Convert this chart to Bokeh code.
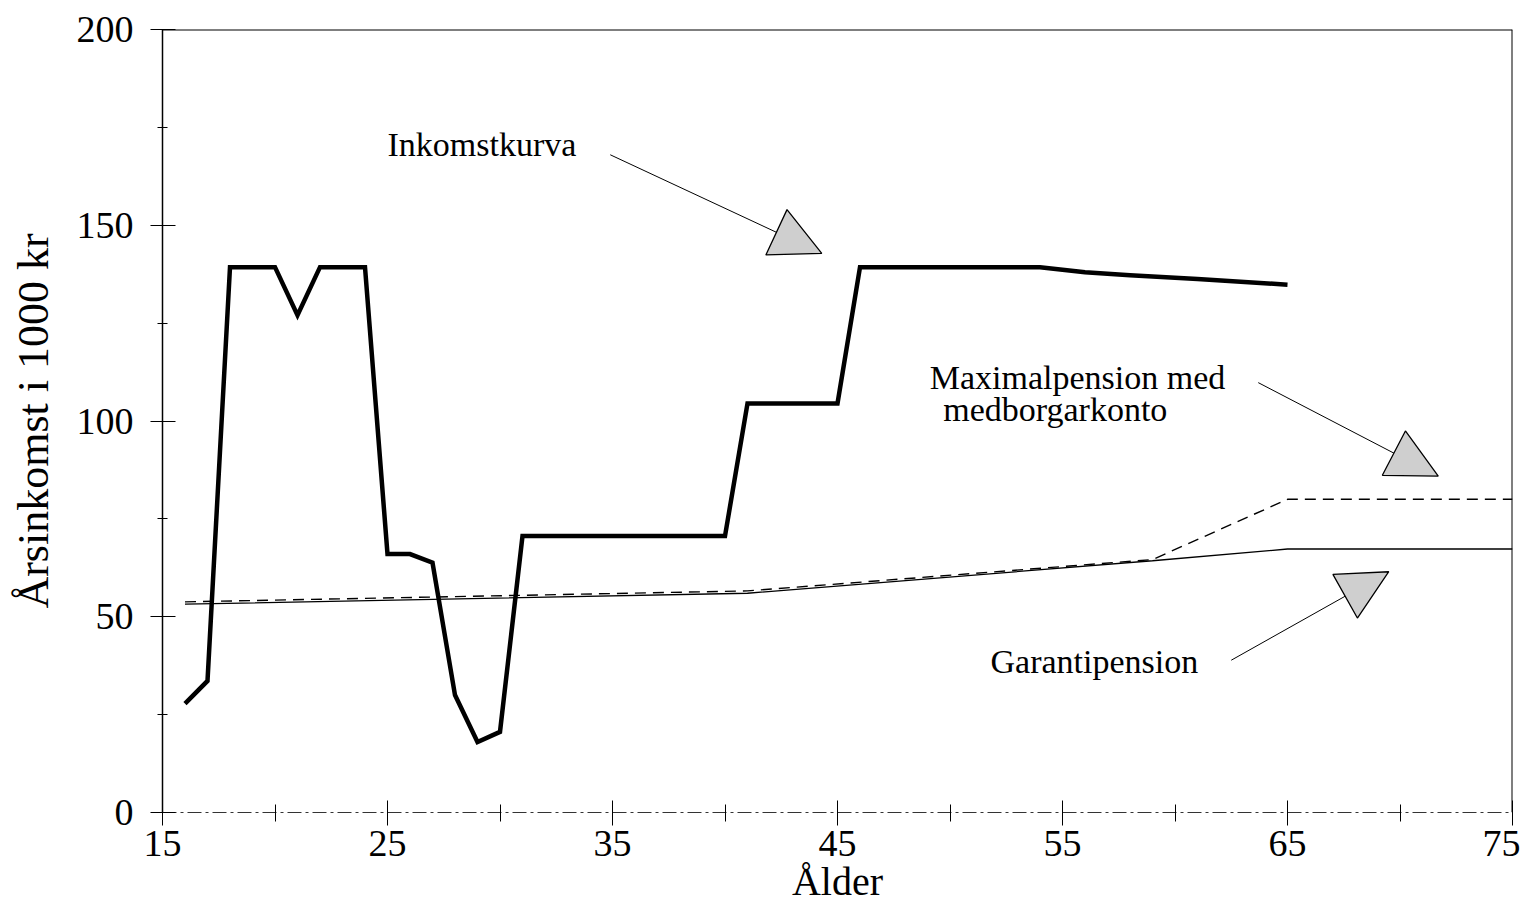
from bokeh.plotting import figure
from bokeh.models import Range1d, FixedTicker, Arrow, NormalHead, Span
from bokeh.core.properties import value
from bokeh.embed import file_html
from bokeh.resources import INLINE

# ---- data ----
ages_inkomst = [16, 17, 18, 20, 21, 22, 24, 25, 26, 27, 28, 29, 30, 31,
                40, 41, 45, 46, 50, 54, 56, 58, 61, 65]
inkomst = [27.8, 33.6, 139.3, 139.3, 127.0, 139.3, 139.3, 66.0, 66.0, 63.8,
           30.0, 18.0, 20.6, 70.6, 70.6, 104.5, 104.5, 139.3, 139.3, 139.3,
           138.0, 137.2, 136.3, 134.8]

ages_garanti = [16, 41, 59, 65, 75]
garanti = [53.2, 56.0, 64.3, 67.3, 67.3]

ages_maxpension = [16, 41, 59, 65, 75]
maxpension = [53.8, 56.6, 64.6, 80.0, 80.0]

x_major = [15, 25, 35, 45, 55, 65, 75]
x_minor = [20, 30, 40, 50, 60, 70]
y_major = [0, 50, 100, 150, 200]
y_minor = [25, 75, 125, 175]

x_title = "Ålder"
y_title = "Årsinkomst i 1000 kr"

annot_texts = ["Inkomstkurva", "Maximalpension med", "medborgarkonto", "Garantipension"]
annot_x = [25.0, 49.1, 49.7, 51.8]
annot_y = [170.5, 111.1, 102.9, 38.6]

# arrows: (x_start, y_start, x_end, y_end)
arrows = [
    (34.9, 168.0, 44.3, 142.8),
    (63.7, 109.8, 71.7, 85.9),
    (62.5, 38.9, 69.5, 61.5),
]

FONT = "Liberation Serif"

p = figure(width=1520, height=907,
           x_range=Range1d(15, 75), y_range=Range1d(0, 200),
           output_backend="svg", toolbar_location=None,
           min_border_left=162, min_border_right=8,
           min_border_top=29, min_border_bottom=95)

p.grid.visible = False
p.outline_line_color = None
p.background_fill_color = "white"
p.border_fill_color = "white"

# frame top and right
p.add_layout(Span(location=200, dimension="width", line_color="black", line_width=2))
p.add_layout(Span(location=75, dimension="height", line_color="black", line_width=2))

# series
p.line(ages_garanti, garanti, line_color="black", line_width=1.3)
p.line(ages_maxpension, maxpension, line_color="black", line_width=1.4, line_dash="11 7")
p.line(ages_inkomst, inkomst, line_color="black", line_width=4.5, line_join="miter")

# axes
xa = p.xaxis[0]
xa.ticker = FixedTicker(ticks=x_major, minor_ticks=x_minor)
xa.axis_label = x_title
xa.major_tick_in = 12
xa.major_tick_out = 13
xa.minor_tick_in = 8
xa.minor_tick_out = 9
xa.axis_line_color = "#333333"
xa.axis_line_dash = "14 4 3 4"
xa.major_label_standoff = 5
xa.axis_label_standoff = 0
xa.major_label_text_font = FONT
xa.major_label_text_font_size = "38px"
xa.axis_label_text_font = FONT
xa.axis_label_text_font_size = "40px"
xa.axis_label_text_font_style = "normal"

ya = p.yaxis[0]
ya.ticker = FixedTicker(ticks=y_major, minor_ticks=y_minor)
ya.axis_label = y_title
ya.major_tick_in = 13
ya.major_tick_out = 12
ya.minor_tick_in = 5
ya.minor_tick_out = 5
ya.axis_line_color = "black"
ya.axis_line_width = 1.5
ya.major_label_standoff = 17
ya.axis_label_standoff = 16
ya.major_label_text_font = FONT
ya.major_label_text_font_size = "38px"
ya.axis_label_text_font = FONT
ya.axis_label_text_font_size = "44px"
ya.axis_label_text_font_style = "normal"

for ax in (xa, ya):
    ax.major_tick_line_color = "black"
    ax.minor_tick_line_color = "black"
    ax.major_label_text_color = "black"
    ax.axis_label_text_color = "black"

# annotation texts
p.text(x=annot_x, y=annot_y, text=annot_texts,
       text_font=value(FONT), text_font_size="34px",
       text_align="left", text_baseline="alphabetic", text_color="black")

# arrows
for xs, ys, xe, ye in arrows:
    head = NormalHead(size=50, fill_color="#cfcfcf", line_color="black", line_width=1.3,
                      hatch_pattern=".", hatch_color="#444444", hatch_scale=3, hatch_weight=1)
    p.add_layout(Arrow(end=head, x_start=xs, y_start=ys, x_end=xe, y_end=ye,
                       line_color="black", line_width=1))

open("out.html", "w", encoding="utf-8").write(file_html(p, INLINE))
